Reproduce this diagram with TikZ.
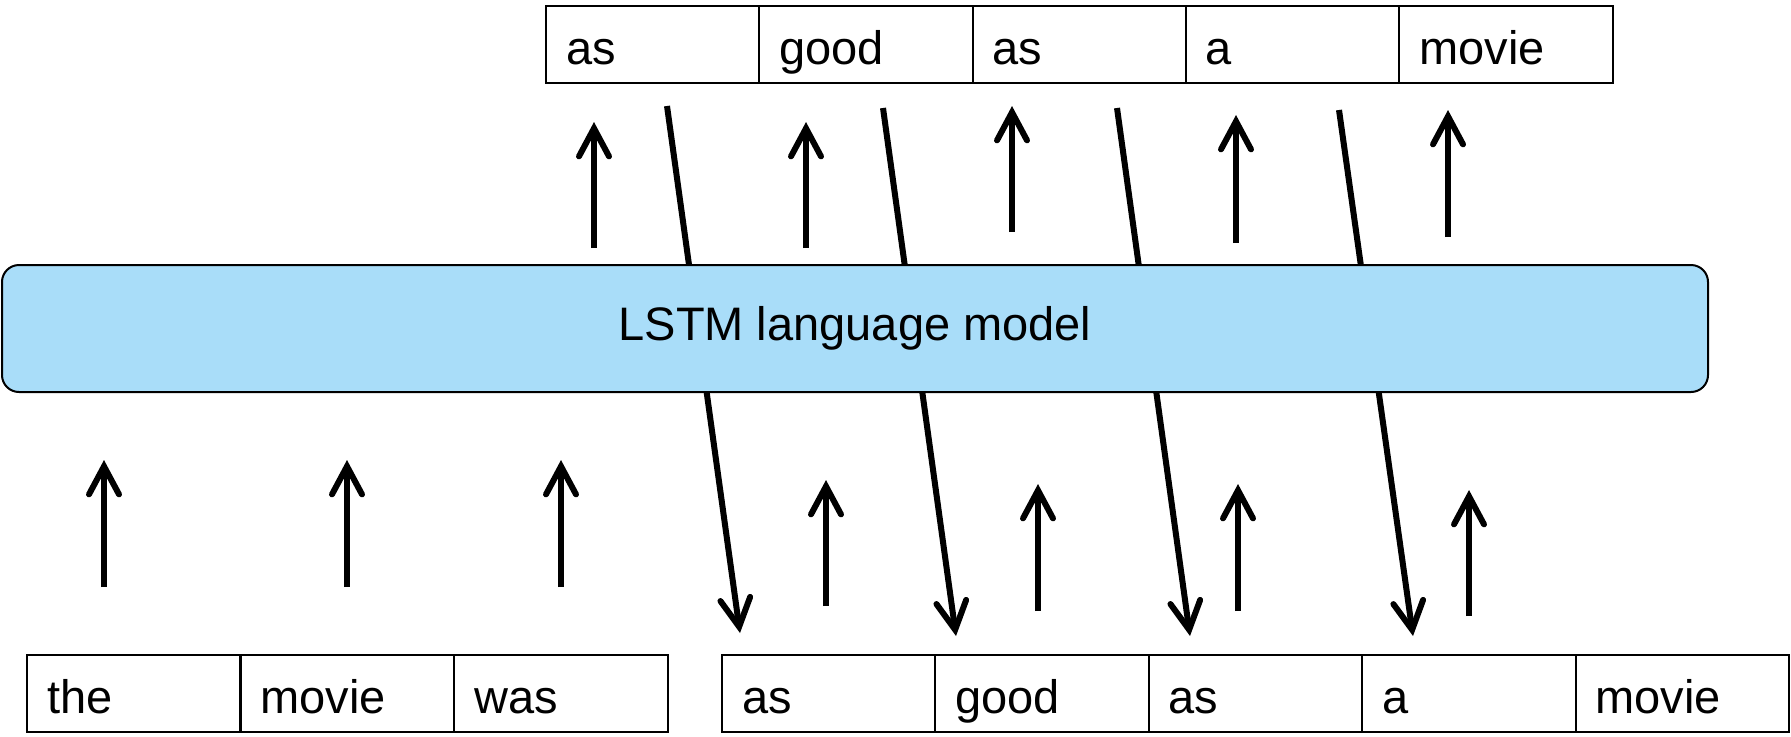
\documentclass[tikz,border=0pt]{standalone}
\usepackage{fontspec}
\setmainfont{Liberation Sans}
\usetikzlibrary{arrows.meta}
\definecolor{lmblue}{RGB}{169,221,249}
\begin{document}
\begin{tikzpicture}[x=0.5pt,y=-0.5pt,
  font=\fontsize{23.5}{28}\selectfont,
  cell/.style={draw, line width=1pt, anchor=north west, outer sep=0pt,
    minimum width=106.7pt, minimum height=38.5pt, text width=86.7pt,
    inner xsep=10pt, inner ysep=0pt, align=left,
    text height=25pt, text depth=5.5pt},
  model/.style={draw, line width=1pt, fill=lmblue, rounded corners=8.5pt,
    anchor=north west, outer sep=0pt, minimum width=853pt, minimum height=63.5pt,
    inner sep=0pt},
  flow/.style={line width=3pt,
    -{Straight Barb[length=14pt,width=15pt,line cap=round,line join=miter]}},
]
\useasboundingbox (0,0) rectangle (1791,736);

% feedback lines: each predicted word is fed back as the next input
\coordinate (f1s) at (667,106);  \coordinate (f1e) at (740,633);
\coordinate (f2s) at (883,108);  \coordinate (f2e) at (956,636);
\coordinate (f3s) at (1117,108); \coordinate (f3e) at (1190,636);
\coordinate (f4s) at (1339,110); \coordinate (f4e) at (1413,636);
\foreach \i in {1,...,4} \draw[flow] (f\i s) -- (f\i e);

% the language model
\node[model] (lm) at (2,265) {};
\node at (lm.center) {LSTM language model};

% output words
\foreach \w [count=\i from 0] in {as,good,as,a,movie}
  \node[cell] (t\i) at ({546+213.3*\i},6) {\w};

% prompt words
\foreach \w [count=\i from 0] in {the,movie,was}
  \node[cell] (p\i) at ({27+213.7*\i},655) {\w};

% generated words used as inputs
\foreach \w [count=\i from 0] in {as,good,as,a,movie}
  \node[cell] (g\i) at ({722+213.4*\i},655) {\w};

% input arrows under the prompt
\coordinate (pa0) at (104,587); \coordinate (pb0) at (104,460);
\coordinate (pa1) at (347,587); \coordinate (pb1) at (347,460);
\coordinate (pa2) at (561,587); \coordinate (pb2) at (561,460);
\foreach \i in {0,1,2} \draw[flow] (pa\i) -- (pb\i);

% output arrows above the model
\coordinate (oa0) at (594,248);  \coordinate (ob0) at (594,122);
\coordinate (oa1) at (806,248);  \coordinate (ob1) at (806,122);
\coordinate (oa2) at (1012,232); \coordinate (ob2) at (1012,106);
\coordinate (oa3) at (1236,243); \coordinate (ob3) at (1236,115);
\coordinate (oa4) at (1448,237); \coordinate (ob4) at (1448,110);
\foreach \i in {0,...,4} \draw[flow] (oa\i) -- (ob\i);

% input arrows under the generated words
\coordinate (ga0) at (826,606);  \coordinate (gb0) at (826,480);
\coordinate (ga1) at (1038,611); \coordinate (gb1) at (1038,484);
\coordinate (ga2) at (1238,611); \coordinate (gb2) at (1238,484);
\coordinate (ga3) at (1469,616); \coordinate (gb3) at (1469,490);
\foreach \i in {0,...,3} \draw[flow] (ga\i) -- (gb\i);
\end{tikzpicture}
\end{document}
